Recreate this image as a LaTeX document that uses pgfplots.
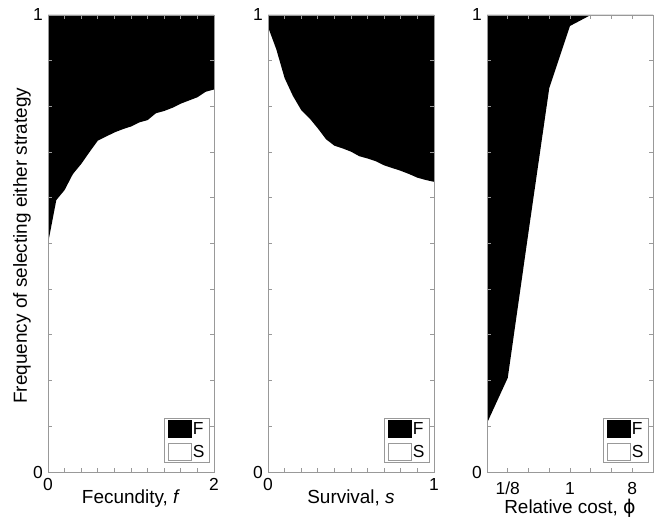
\documentclass[border=0pt]{standalone}
\usepackage{fontspec}
\setmainfont{Liberation Sans}
\newfontfamily\djv{DejaVu Sans}
\usepackage{pgfplots}
\pgfplotsset{compat=1.18}
\definecolor{axgray}{rgb}{0.6,0.6,0.6}
\pgfplotsset{
  panel/.style={
    scale only axis, width=166bp, height=457bp,
    anchor=south west,
    ymin=0, ymax=1,
    ytick={0,0.1,0.2,0.3,0.4,0.5,0.6,0.7,0.8,0.9,1},
    yticklabels={0,,,,,,,,,,1},
    axis line style={axgray, line width=0.8bp},
    tick style={axgray, line width=0.8bp},
    major tick length=4bp,
    tick align=inside,
    axis on top,
    ticklabel style={font=\fontsize{17.5}{19}\selectfont, inner sep=0pt},
    yticklabel style={xshift=-5bp},
    xticklabel style={yshift=-6bp},
    label style={font=\fontsize{19}{22}\selectfont},
    xlabel style={at={(axis description cs:0.5,0)}, anchor=north, inner sep=0pt, yshift=-18bp},
    legend style={at={(axis description cs:0.976,0.0197)}, anchor=south east,
      draw=axgray, fill=white, line width=0.8bp, font=\fontsize{17.5}{18}\selectfont,
      inner xsep=4bp, inner ysep=2bp, row sep=5bp, nodes={inner sep=1bp},
      cells={anchor=west}},
    legend image code/.code={\draw[#1] (0bp,-8.5bp) rectangle (23bp,8.5bp);},
  }
}
\begin{document}
\begin{tikzpicture}
\useasboundingbox (0,0) rectangle (659bp,517bp);
% Panel 1: fecundity
\begin{axis}[panel, at={(48bp,45bp)},
  xmin=0, xmax=2,
  xtick={0,0.2,0.4,0.6,0.8,1,1.2,1.4,1.6,1.8,2},
  xticklabels={0,,,,,,,,,,2},
  xlabel={Fecundity, \textit{f}},
  ylabel={Frequency of selecting either strategy},
  ylabel style={at={(axis description cs:-0.102,0.495)}, anchor=south, inner sep=0pt},
]
\addplot[fill=black, draw=none, forget plot] coordinates {
(0,0.50) (0.1,0.595) (0.2,0.617) (0.3,0.652) (0.4,0.674) (0.5,0.70)
(0.6,0.725) (0.7,0.734) (0.8,0.743) (0.9,0.750) (1.0,0.756) (1.1,0.765)
(1.2,0.770) (1.3,0.785) (1.4,0.790) (1.5,0.797) (1.6,0.806) (1.7,0.813)
(1.8,0.820) (1.9,0.832) (2.0,0.837) (2.0,1) (0,1)};
\addlegendimage{fill=black, draw=black}
\addlegendentry{F}
\addlegendimage{fill=white, draw=axgray}
\addlegendentry{S}
\end{axis}
% Panel 2: survival
\begin{axis}[panel, at={(268bp,45bp)},
  xmin=0, xmax=1,
  xtick={0,0.1,0.2,0.3,0.4,0.5,0.6,0.7,0.8,0.9,1},
  xticklabels={0,,,,,,,,,,1},
  xlabel={Survival, \textit{s}},
]
\addplot[fill=black, draw=none, forget plot] coordinates {
(0,0.974) (0.05,0.925) (0.10,0.862) (0.15,0.823) (0.20,0.792) (0.25,0.774)
(0.30,0.752) (0.35,0.728) (0.40,0.714) (0.45,0.708) (0.50,0.701) (0.55,0.691)
(0.60,0.686) (0.65,0.680) (0.70,0.671) (0.75,0.665) (0.80,0.659) (0.85,0.652)
(0.90,0.644) (0.95,0.639) (1.00,0.635) (1,1) (0,1)};
\addlegendimage{fill=black, draw=black}
\addlegendentry{F}
\addlegendimage{fill=white, draw=axgray}
\addlegendentry{S}
\end{axis}
% Panel 3: relative cost
\begin{axis}[panel, at={(487bp,45bp)},
  xmode=log, log basis x=2,
  xmin=0.0625, xmax=16,
  xtick={0.0625,0.125,0.25,0.5,1,2,4,8,16},
  xticklabels={,1/8,,,1,,,8,},
  xticklabel style={yshift=-4bp},
  xlabel={Relative cost, {\djv ϕ}},
  xlabel style={yshift=-8.5bp},
]
\addplot[fill=black, draw=none, forget plot] coordinates {
(0.0625,0.107) (0.125,0.206) (0.25,0.525) (0.5,0.84) (1,0.976) (2,1)
(4,1) (8,1) (16,1) (0.0625,1)};
\addlegendimage{fill=black, draw=black}
\addlegendentry{F}
\addlegendimage{fill=white, draw=axgray}
\addlegendentry{S}
\end{axis}
\end{tikzpicture}
\end{document}
